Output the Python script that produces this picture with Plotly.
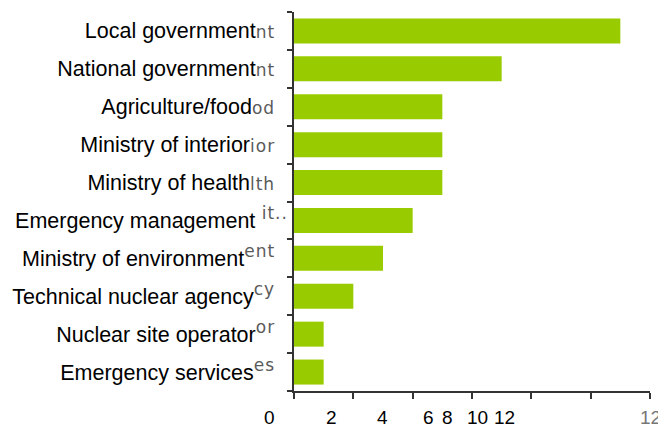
import plotly.graph_objects as go

# Organisations involved and number of mentions
categories = [
    "Local government",
    "National government",
    "Agriculture/food",
    "Ministry of interior",
    "Ministry of health",
    "Emergency management",
    "Ministry of environment",
    "Technical nuclear agency",
    "Nuclear site operator",
    "Emergency services",
]
values = [11, 7, 5, 5, 5, 4, 3, 2, 1, 1]

# Truncated label remnants shown after each name
label_tails = ["nt", "nt", "od", "ior", "lth", " it..", "ent", "cy", "or", "es"]
tail_raised = [False, False, False, False, False, True, True, True, True, True]
tail_padded = [True, True, True, True, True, False, True, True, True, True]

# Value-axis labels and where they sit along the axis (in axis units)
xtick_labels = ["0", "2", "4", "6", "8", "10", "12"]
xtick_label_pos = [-0.84, 1.28, 2.97, 4.52, 5.19, 6.2, 7.11]
x_range = [0, 12]

BAR = "#99CC00"
AXIS = "#333333"
GHOST = "#5a5a5a"
FONT = "Liberation Sans, Arial, sans-serif"
GHOST_FONT = "DejaVu Sans"
PAD = "\u00a0\u00a0"


def tick_text(name, tail, raised, padded):
    tail = tail + (PAD if padded else "")
    inner = (
        f"<span style='font-family:{GHOST_FONT};font-size:17px;"
        f"letter-spacing:1px;color:{GHOST}'>{tail}</span>"
    )
    if raised:
        return f"{name}<sup>{inner}</sup>"
    return f"{name}{inner}"


ticktext = [
    tick_text(c, t, r, p)
    for c, t, r, p in zip(categories, label_tails, tail_raised, tail_padded)
]

fig = go.Figure(
    go.Bar(
        x=values,
        y=categories,
        orientation="h",
        marker=dict(color=BAR, line=dict(width=0)),
        hoverinfo="x+y",
    )
)

fig.update_layout(
    width=658,
    height=430,
    margin=dict(l=294, r=8, t=12, b=39),
    paper_bgcolor="white",
    plot_bgcolor="white",
    showlegend=False,
    bargap=0.34,
    font=dict(family=FONT, color="black"),
)

fig.update_yaxes(
    type="category",
    autorange="reversed",
    tickmode="array",
    tickvals=categories,
    ticktext=ticktext,
    tickson="boundaries",
    ticks="outside",
    ticklen=5,
    tickwidth=1.5,
    tickcolor=AXIS,
    showline=True,
    linecolor=AXIS,
    linewidth=1.5,
    showgrid=False,
    zeroline=False,
    tickfont=dict(family=FONT, size=21.5, color="black"),
    ticklabelstandoff=0,
    automargin=False,
)

fig.update_xaxes(
    range=x_range,
    tickmode="array",
    tickvals=[0, 2, 4, 6, 8, 10, 12],
    ticks="outside",
    ticklen=6,
    tickwidth=1.5,
    tickcolor=AXIS,
    showticklabels=False,
    showline=True,
    linecolor=AXIS,
    linewidth=1.5,
    showgrid=False,
    zeroline=False,
    automargin=False,
)

span = x_range[1] - x_range[0]
for lab, pos in zip(xtick_labels, xtick_label_pos):
    fig.add_annotation(
        text=lab,
        xref="paper",
        yref="paper",
        x=(pos - x_range[0]) / span,
        y=0,
        yshift=-26,
        xanchor="center",
        yanchor="middle",
        showarrow=False,
        font=dict(family=FONT, size=19, color="black"),
    )

# Faded end label of the original axis, at its true position
fig.add_annotation(
    text=xtick_labels[-1],
    xref="paper",
    yref="paper",
    x=(x_range[1] - x_range[0]) / span,
    y=0,
    yshift=-26,
    xanchor="center",
    yanchor="middle",
    showarrow=False,
    font=dict(family=FONT, size=19, color="#777777"),
)

fig.write_html("out.html")
